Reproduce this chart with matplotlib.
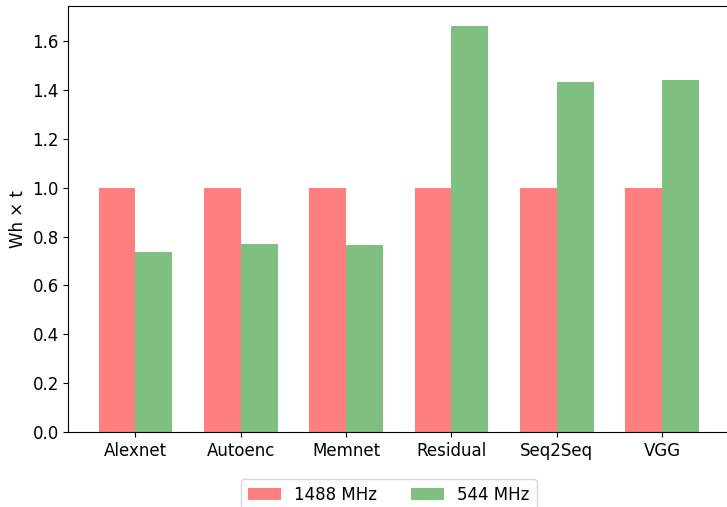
import matplotlib.pyplot as plt
import numpy as np

models = ["Alexnet", "Autoenc", "Memnet", "Residual", "Seq2Seq", "VGG"]
high_freq = [1.0, 1.0, 1.0, 1.0, 1.0, 1.0]
low_freq = [0.737, 0.769, 0.765, 1.661, 1.432, 1.440]
series_labels = ["1488 MHz", "544 MHz"]

fig = plt.figure(figsize=(7.27, 5.07), dpi=100)
ax = fig.add_axes([0.0942, 0.148, 0.9085, 0.840])

x = np.arange(len(models))
width = 0.35
ax.bar(x - width / 2, high_freq, width, color="r", alpha=0.5, label=series_labels[0])
ax.bar(x + width / 2, low_freq, width, color="g", alpha=0.5, label=series_labels[1])

ax.set_xticks(x)
ax.set_xticklabels(models, fontsize=12)
ax.tick_params(axis="y", labelsize=12)
ax.set_ylabel("Wh × t", fontsize=12)

ax.legend(loc="upper center", bbox_to_anchor=(0.485, -0.091), ncol=2, fontsize=12)

fig.savefig("out.png", dpi=100)
